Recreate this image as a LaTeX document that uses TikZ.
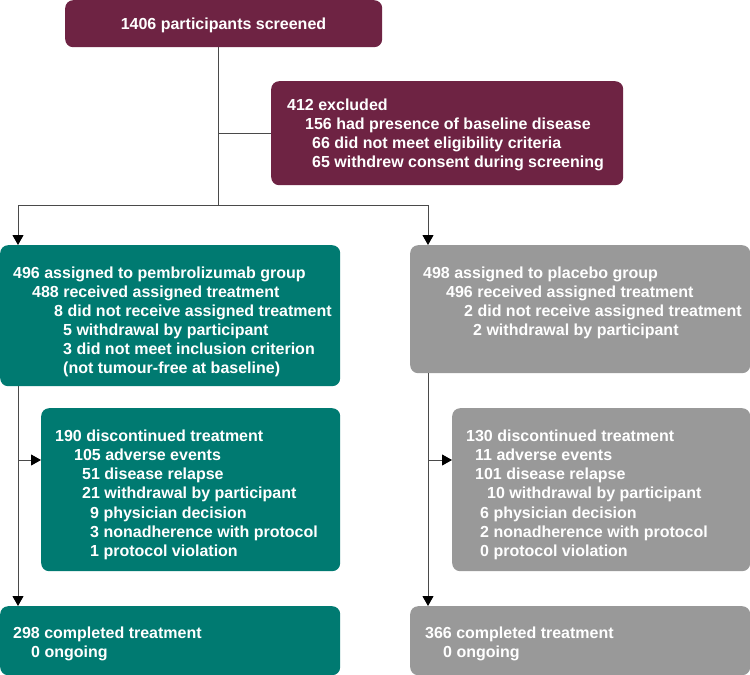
\documentclass[tikz,border=0pt]{standalone}
\usepackage{fontspec}
\setmainfont{Liberation Sans}
\usetikzlibrary{arrows.meta}
\definecolor{burg}{HTML}{6E2343}
\definecolor{teal}{HTML}{007A71}
\definecolor{greybox}{HTML}{999999}
\definecolor{lineclr}{HTML}{4A4A4A}
\tikzset{
  box/.style={rounded corners=8pt, draw=none, anchor=north west, inner sep=0pt},
  txt/.style={text=white, font=\fontsize{16}{19.2}\selectfont\bfseries, inner sep=0pt, anchor=base west},
  conn/.style={line width=1pt, draw=lineclr},
  arr/.style={conn, -{Triangle[length=10pt,width=11pt,color=black]}}
}
\begin{document}
\begin{tikzpicture}[x=1pt,y=-1pt]
\useasboundingbox (0,0) rectangle (750,675);
% boxes
\node[box, fill=burg, minimum width=317pt, minimum height=47pt] (screen) at (65,0) {};
\node[box, fill=burg, minimum width=352pt, minimum height=104pt] (excl) at (271,81) {};
\node[box, fill=teal, minimum width=340pt, minimum height=141pt] (pem) at (0,245) {};
\node[box, fill=greybox, minimum width=340pt, minimum height=128pt] (pla) at (410,245) {};
\node[box, fill=teal, minimum width=299pt, minimum height=163pt] (pdisc) at (41,408) {};
\node[box, fill=greybox, minimum width=298pt, minimum height=163pt] (qdisc) at (452,408) {};
\node[box, fill=teal, minimum width=340pt, minimum height=69pt] (pcomp) at (0,606) {};
\node[box, fill=greybox, minimum width=340pt, minimum height=69pt] (qcomp) at (410,606) {};
% texts
\node[txt, anchor=base] (t0) at (223.5,29) {1406 participants screened};
\foreach \dx/\t [count=\i] in {0/{412 excluded}, 18/{156 had presence of baseline disease}, 25/{66 did not meet eligibility criteria}, 25/{65 withdrew consent during screening}}
  \node[txt] (e\i) at ({287+\dx},{110+19.3*(\i-1)}) {\t};
\foreach \dx/\t [count=\i] in {0/{496 assigned to pembrolizumab group}, 19/{488 received assigned treatment}, 41/{8 did not receive assigned treatment}, 50/{5 withdrawal by participant}, 50/{3 did not meet inclusion criterion}, 50/{(not tumour-free at baseline)}}
  \node[txt] (a\i) at ({13+\dx},{278+19.1*(\i-1)}) {\t};
\foreach \dx/\t [count=\i] in {0/{498 assigned to placebo group}, 23/{496 received assigned treatment}, 41/{2 did not receive assigned treatment}, 50/{2 withdrawal by participant}}
  \node[txt] (b\i) at ({423+\dx},{278+19.1*(\i-1)}) {\t};
\foreach \dx/\t [count=\i] in {0/{190 discontinued treatment}, 19/{105 adverse events}, 27/{51 disease relapse}, 27/{21 withdrawal by participant}, 35/{9 physician decision}, 35/{3 nonadherence with protocol}, 35/{1 protocol violation}}
  \node[txt] (c\i) at ({55+\dx},{441+19.3*(\i-1)}) {\t};
\foreach \dx/\t [count=\i] in {0/{130 discontinued treatment}, 9/{11 adverse events}, 9/{101 disease relapse}, 21/{10 withdrawal by participant}, 14/{6 physician decision}, 14/{2 nonadherence with protocol}, 14/{0 protocol violation}}
  \node[txt] (d\i) at ({466+\dx},{441+19.3*(\i-1)}) {\t};
\node[txt] (f1) at (13,638) {298 completed treatment};
\node[txt] (f2) at (31,657) {0 ongoing};
\node[txt] (g1) at (425,638) {366 completed treatment};
\node[txt] (g2) at (443,657) {0 ongoing};
% connectors
\coordinate (j) at (218,205);
\coordinate (pl) at (18,205);
\coordinate (pr) at (428,205);
\coordinate (pm) at (18,460);
\coordinate (qm) at (428,460);
\draw[conn] (j |- screen.south) -- (j);
\draw[conn] (j |- excl.west) -- (excl.west);
\draw[conn] (pl) -- (pr);
\draw[arr] (pl) -- (pl |- pem.north);
\draw[arr] (pr) -- (pr |- pla.north);
\draw[arr] (pl |- pem.south) -- (pl |- pcomp.north);
\draw[arr] (pr |- pla.south) -- (pr |- qcomp.north);
\draw[arr] (pm) -- (pdisc.west |- pm);
\draw[arr] (qm) -- (qdisc.west |- qm);
\end{tikzpicture}
\end{document}
